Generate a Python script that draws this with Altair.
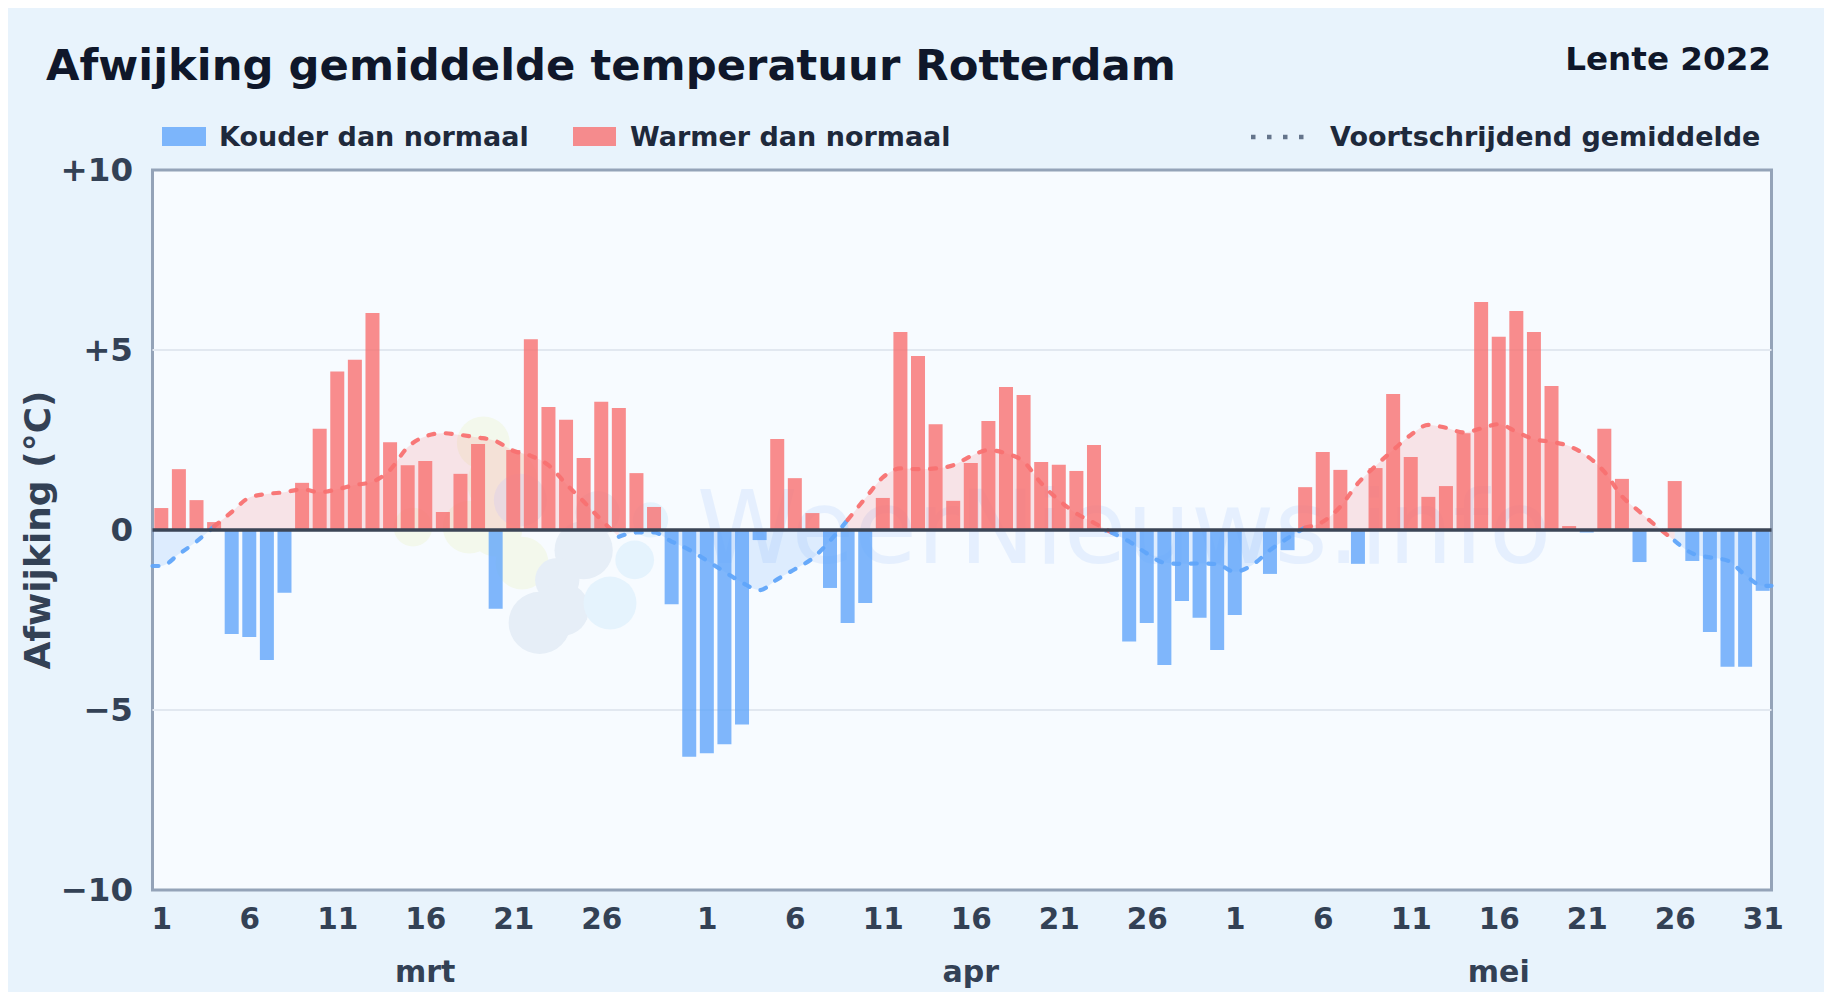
import altair as alt
import pandas as pd

maart = [0.61, 1.69, 0.83, 0.22, -2.89, -2.97, -3.61, -1.74, 1.31, 2.81,
         4.40, 4.73, 6.03, 2.44, 1.80, 1.92, 0.50, 1.56, 2.39, -2.19,
         2.22, 5.30, 3.42, 3.06, 2.00, 3.56, 3.39, 1.58, 0.64, -2.06, -6.30]
april = [-6.20, -5.95, -5.40, -0.28, 2.53, 1.44, 0.47, -1.61, -2.58, -2.03,
         0.89, 5.50, 4.83, 2.94, 0.81, 1.86, 3.03, 3.97, 3.75, 1.89,
         1.81, 1.64, 2.36, -0.08, -3.10, -2.58, -3.75, -1.97, -2.44, -3.33]
mei = [-2.36, 0.0, -1.22, -0.56, 1.19, 2.17, 1.67, -0.94, 1.72, 3.78,
       2.03, 0.92, 1.22, 2.69, 6.33, 5.37, 6.08, 5.50, 4.00, 0.11,
       -0.07, 2.81, 1.42, -0.89, 0.0, 1.36, -0.86, -2.83, -3.80, -3.80, -1.69]
gemiddelde = [-1.00, -0.67, -0.32, 0.10, 0.50, 0.90, 1.00, 1.05, 1.13, 1.05,
              1.13, 1.25, 1.34, 1.67, 2.30, 2.60, 2.69, 2.64, 2.57, 2.47,
              2.20, 2.06, 1.80, 1.28, 0.79, 0.28, -0.19, -0.07, -0.07, -0.32, -0.55,
              -0.85, -1.16, -1.46, -1.67, -1.37, -1.09, -0.79, -0.30, 0.28, 0.88,
              1.46, 1.71, 1.69, 1.71, 1.80, 2.05, 2.22, 2.13, 1.90, 1.30,
              0.83, 0.46, 0.20, -0.07, -0.32, -0.65, -0.91, -0.94, -0.93, -0.95,
              -1.16, -0.97, -0.56, -0.23, 0.07, 0.23, 0.65, 1.30, 1.78, 2.22,
              2.64, 2.92, 2.84, 2.71, 2.82, 2.94, 2.73, 2.52, 2.45, 2.33,
              2.06, 1.62, 0.94, 0.51, 0.09, -0.30, -0.65, -0.76, -0.85, -1.25, -1.55]
x_ticks = [1, 6, 11, 16, 21, 26, 32, 37, 42, 47, 52, 57, 62, 67, 72, 77, 82, 87, 92]
y_ticks = [-10, -5, 0, 5, 10]
rasterlijnen = [-5, 5]
maanden = ["mrt", "apr", "mei"]
maand_pos = [16, 47, 77]
logo_x = [19.3, 15.3, 18.5, 21.5, 20.4, 20.0, 22.5, 25.0, 23.5, 21.4, 25.8, 23.8, 26.5, 28.8, 27.9]
logo_y = [2.42, 0.08, 0.08, -0.92, 1.31, 0.0, -2.58, -0.56, -1.39, 0.83, 0.47, -2.2, -2.03, 0.28, -0.83]
logo_s = [2800, 1500, 2800, 2800, 5000, 2800, 3850, 3400, 1960, 2800, 1960, 2800, 2800, 1250, 1500]
logo_k = ["#f3f8ec"] * 6 + ["#e6eef7"] * 6 + ["#e5f3fd"] * 3

BLAUW, ROOD = "#60a5fa", "#f87171"
FONT = "DejaVu Sans"

waarden = maart + april + mei
bars = pd.DataFrame({
    "dag": range(1, 93), "v": waarden, "nul": 0.0,
    "teken": [ROOD if v > 0 else BLAUW for v in waarden],
})

# the line runs on to both plot edges at its first and last reading
dagen = [0.5] + list(range(1, 93)) + [92.5]
reeks = [gemiddelde[0]] + gemiddelde + [gemiddelde[-1]]
rows = []
seg = 0
for i in range(len(reeks) - 1):
    teken = ROOD if reeks[i] >= 0 else BLAUW
    if i and (reeks[i] >= 0) != (reeks[i - 1] >= 0):
        seg += 1
    rows.append({"dag": dagen[i], "v": reeks[i], "nul": 0.0, "seg": seg, "teken": teken})
    rows.append({"dag": dagen[i + 1], "v": reeks[i + 1], "nul": 0.0, "seg": seg, "teken": teken})
lijn = pd.DataFrame(rows).drop_duplicates(["dag", "seg"])

logo = pd.DataFrame({"dag": logo_x, "v": logo_y, "s": logo_s, "k": logo_k})
mnd = pd.DataFrame({"dag": maand_pos, "t": maanden})
raster = pd.DataFrame({"v": rasterlijnen})

X = alt.X("dag:Q", scale=alt.Scale(domain=[0.5, 92.5], nice=False, zero=False, padding=0), title=None,
          axis=alt.Axis(values=x_ticks, grid=False, domain=False, ticks=False,
                        labelFont=FONT, labelFontWeight="bold", labelFontSize=29.5,
                        labelColor="#334155", labelPadding=15, labelFlush=False,
                        labelBound=False, labelOverlap=False, labelAngle=0,
                        labelExpr="datum.value <= 31 ? datum.value : datum.value <= 61 ? datum.value - 31 : datum.value - 61"))
Y = alt.Y("v:Q", scale=alt.Scale(domain=[-10, 10], nice=False, padding=0), title=None,
          axis=alt.Axis(values=y_ticks, grid=False,
                        domain=False, ticks=False, labelFont=FONT, labelFontWeight="bold",
                        labelFontSize=32.5, labelColor="#334155", labelPadding=20,
                        labelBound=False, labelFlush=False,
                        labelExpr="datum.value > 0 ? '+' + datum.value : datum.value < 0 ? '\u2212' + abs(datum.value) : '0'"))
c = alt.Color("teken:N", scale=None)


def tekst(t, x, y, size, color, align="left", angle=None, opacity=None):
    kw = dict(text=t, font=FONT, fontWeight="bold", fontSize=size, color=color,
              align=align, baseline="alphabetic")
    if angle is not None:
        kw["angle"] = angle
        kw["baseline"] = "middle"
    if opacity is not None:
        kw["opacity"] = opacity
        kw["fontWeight"] = "normal"
    return alt.Chart(bars.head(1)).mark_text(**kw).encode(
        x=alt.value(x - 152.5), y=alt.value(y - 170))


def rechthoek(x1, x2, y1, y2, color, opacity=0.8):
    return alt.Chart(bars.head(1)).mark_rect(color=color, opacity=opacity).encode(
        x=alt.value(x1 - 152.5), x2=alt.value(x2 - 152.5),
        y=alt.value(y1 - 170), y2=alt.value(y2 - 170))


grond = alt.Chart(bars).mark_bar(opacity=0).encode(x=X, y=Y)
rasterlaag = alt.Chart(raster).mark_rule(color="#e2e8f0", size=2).encode(y=Y)
blob = alt.Chart(logo).mark_circle(opacity=1).encode(
    x=X, y=Y, size=alt.Size("s:Q", scale=None), color=alt.Color("k:N", scale=None))
vlak = alt.Chart(lijn).mark_area(interpolate="monotone", opacity=0.17).encode(
    x=X, y=Y, y2="nul:Q", color=c, detail="seg:N")
staaf = alt.Chart(bars).mark_bar(size=14, opacity=0.8).encode(x=X, y=Y, y2="nul:Q", color=c)
curve = alt.Chart(lijn).mark_line(interpolate="monotone", strokeWidth=4.2, strokeDash=[6, 11.5],
                                  strokeCap="round", opacity=0.95).encode(
    x=X, y=Y, color=c, detail="seg:N")
nul = alt.Chart(bars.head(1)).mark_rule(color="#3b4556", size=3.6).encode(y=alt.datum(0))
maandtekst = alt.Chart(mnd).mark_text(font=FONT, fontWeight="bold", fontSize=30, color="#334155",
                                      baseline="alphabetic").encode(
    x=X, y=alt.value(982 - 170), text="t:N")

chart = alt.layer(
    grond,
    tekst("WeerNieuws.info", 1124, 563, 102, "#3b82f6", align="center", opacity=0.09),
    blob, rasterlaag, vlak, staaf, curve, nul, maandtekst,
    tekst("Afwijking gemiddelde temperatuur Rotterdam", 46, 80, 43.3, "#0f172a"),
    tekst("Lente 2022", 1771, 70, 32.6, "#0f172a", align="right"),
    rechthoek(162, 206, 127, 146, BLAUW),
    tekst("Kouder dan normaal", 219, 146, 27, "#1e293b"),
    rechthoek(573, 616, 127, 146, ROOD),
    tekst("Warmer dan normaal", 630, 146, 27, "#1e293b"),
    alt.Chart(bars.head(1)).mark_rule(color="#64748b", size=4.5, strokeDash=[4.5, 11.5]).encode(
        x=alt.value(1251 - 152.5), x2=alt.value(1310 - 152.5), y=alt.value(137 - 170)),
    tekst("Voortschrijdend gemiddelde", 1330, 146, 27, "#1e293b"),
    tekst("Afwijking (\u00b0C)", 39, 530, 36, "#334155", align="center", angle=270),
).properties(
    width=1619, height=720,
    padding={"left": 144.5, "top": 162, "right": 52.5, "bottom": 102},
    autosize=alt.AutoSizeParams(type="none"),
    background="#e8f3fc",
).configure_view(fill="#f7fbff", stroke="#94a3b8", strokeWidth=3)

chart.save("out.html", embed_options={"renderer": "svg", "actions": False})
